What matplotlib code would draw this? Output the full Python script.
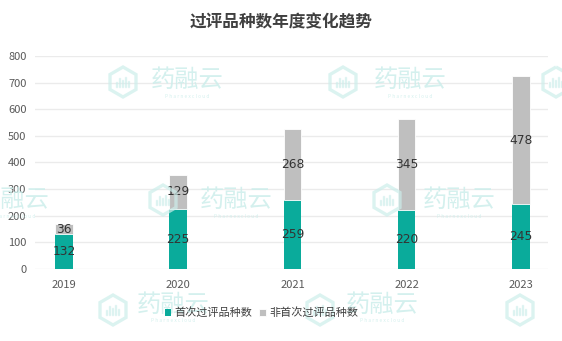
import matplotlib
matplotlib.use("Agg")
import matplotlib.pyplot as plt
from matplotlib.patches import RegularPolygon
from matplotlib.transforms import IdentityTransform
import numpy as np

plt.rcParams['font.family'] = ['Noto Sans CJK SC', 'DejaVu Sans']

years = ['2019', '2020', '2021', '2022', '2023']
first_time = [132, 225, 259, 220, 245]
not_first = [36, 129, 268, 345, 478]

teal = '#0aab9b'
grey = '#bfbfbf'

fig = plt.figure(figsize=(5.62, 3.41), dpi=100)
ax = fig.add_axes([0.062, 0.211, 0.913, 0.625])

x = np.arange(len(years))
w = 0.152
ax.bar(x, first_time, w, color=teal, label='首次过评品种数', zorder=3)
ax.bar(x, not_first, w, bottom=first_time, color=grey,
       label='非首次过评品种数', zorder=3, edgecolor='white', linewidth=0.6)

# value labels in the middle of each segment
for xi, a, b in zip(x, first_time, not_first):
    ax.text(xi, a / 2, str(a), ha='center', va='center', fontsize=8.8,
            color='#333333', family='DejaVu Sans', zorder=5)
    ax.text(xi, a + b / 2, str(b), ha='center', va='center', fontsize=8.8,
            color='#333333', family='DejaVu Sans', zorder=5)

ax.set_xlim(-0.254, 4.236)
ax.set_ylim(0, 800)
ax.set_yticks(range(0, 801, 100))
ax.set_xticks(x)
ax.set_xticklabels(years)
ax.grid(axis='y', color='#ebebeb', linewidth=1, zorder=0)
for s in ax.spines.values():
    s.set_visible(False)
ax.tick_params(length=0, labelsize=8, colors='#595959', pad=6)
ax.tick_params(axis='x', pad=8)

fig.text(0.5, 0.935, '过评品种数年度变化趋势', ha='center', va='center',
         fontsize=12, fontweight='bold', color='#404040')

leg = fig.legend(loc='center', bbox_to_anchor=(0.465, 0.082), ncol=2,
                 frameon=False, fontsize=8, handlelength=0.6, handleheight=0.6,
                 handletextpad=0.3, columnspacing=0.6, labelcolor='#404040')
leg.set_zorder(5)

# faint watermark (pixel positions, origin top-left)
wm = '#cdeeeb'
wm_text = [(187, 80), (410, 80), (13, 200), (236, 200), (459, 200),
           (173, 305), (382, 305)]
wm_icon = [(123, 82), (343, 82), (556, 82), (163, 200), (387, 200),
           (113, 310), (320, 310), (520, 310)]
for cx, cy in wm_text:
    fx, fy = cx / 562, 1 - cy / 341
    fig.text(fx, fy, '药融云', ha='center', va='center', fontsize=17.5,
             color=wm, alpha=0.85, zorder=1)
    fig.text(fx, fy - 16 / 341, 'P h a r n e x c l o u d', ha='center',
             va='center', fontsize=3.5, color=wm, alpha=0.85, zorder=1)
for cx, cy in wm_icon:
    py = 341 - cy
    fig.patches.append(RegularPolygon((cx, py), 6, radius=15, orientation=0,
                                      fill=False, edgecolor=wm, lw=2.4,
                                      alpha=0.7, transform=IdentityTransform(),
                                      zorder=1))
    for k, hgt in enumerate([5, 9, 7, 10, 6]):
        fig.patches.append(plt.Rectangle((cx - 7 + k * 3, py - 5), 1.2, hgt,
                                         color=wm, alpha=0.55,
                                         transform=IdentityTransform(),
                                         zorder=1))

fig.savefig('out.png', dpi=100)
